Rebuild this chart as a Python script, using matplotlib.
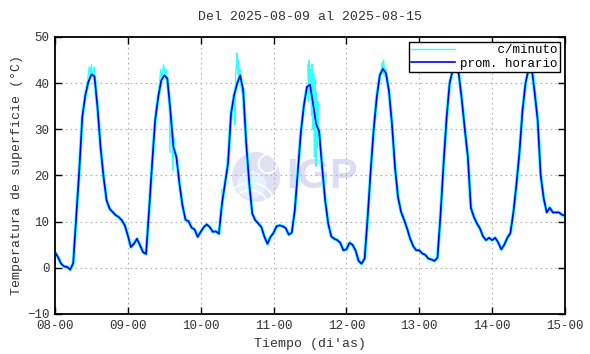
import numpy as np
import matplotlib
matplotlib.use("Agg")
import matplotlib.pyplot as plt
from matplotlib.patches import Ellipse, Arc

plt.rcParams['font.family'] = ['Liberation Mono', 'DejaVu Sans Mono']

# hourly means (prom. horario), 24 values per day from 08 to 14, then 15-00
day08 = [3.4, 2.3, 0.9, 0.3, 0.2, -0.4, 1.0, 11.0, 21.1, 32.7, 37.4, 40.3,
         41.9, 41.5, 34.8, 26.2, 19.7, 14.6, 12.8, 12.1, 11.4, 11.0, 10.3, 9.2]
day09 = [7.0, 4.5, 5.2, 6.3, 4.9, 3.4, 3.0, 12.5, 22.6, 32.0, 37.0, 40.6,
         41.7, 41.0, 34.1, 26.2, 24.0, 18.2, 13.5, 10.4, 10.1, 8.7, 8.3, 6.7]
day10 = [7.8, 8.8, 9.4, 8.8, 7.8, 7.9, 7.4, 13.9, 18.2, 22.6, 33.4, 37.4,
         39.9, 41.7, 38.4, 26.9, 18.2, 11.7, 10.3, 9.6, 8.8, 6.7, 5.2, 6.7]
day11 = [7.6, 9.0, 9.2, 9.0, 8.6, 7.2, 7.6, 12.5, 21.1, 29.4, 35.2, 39.2,
         39.7, 35.6, 31.2, 29.6, 21.8, 14.6, 9.6, 6.8, 6.3, 6.0, 5.4, 3.8]
day12 = [4.0, 5.4, 5.0, 3.8, 1.5, 0.9, 2.0, 11.0, 21.1, 30.1, 37.0, 41.7,
         43.1, 42.2, 38.4, 31.2, 21.8, 15.3, 12.1, 10.4, 8.5, 6.3, 4.7, 3.8]
day13 = [3.8, 3.1, 2.8, 2.0, 1.8, 1.5, 2.2, 11.5, 22.5, 32.5, 40.0, 42.8,
         43.2, 42.0, 36.5, 30.0, 24.0, 13.0, 11.0, 9.6, 8.5, 6.8, 6.0, 6.5]
day14 = [6.0, 6.5, 5.5, 4.0, 5.0, 6.5, 7.5, 12.0, 18.0, 25.0, 34.0, 40.0,
         43.0, 43.5, 38.0, 32.0, 20.0, 15.0, 12.0, 13.0, 12.0, 12.0, 12.0, 11.5]
last_value = [11.3]

# per-minute excursions around the midday peaks (time in days, value)
spike_t = [
    [8.45, 8.47, 8.49, 8.50, 8.52, 8.54, 8.555],
    [9.43, 9.45, 9.47, 9.49, 9.51, 9.53, 9.55, 9.57, 9.578, 9.59, 9.605, 9.62, 9.633, 9.64],
    [10.29, 10.30, 10.46, 10.47, 10.48, 10.49, 10.50, 10.51, 10.52, 10.53, 10.545, 10.56],
    [11.47, 11.48, 11.49, 11.50, 11.51, 11.52, 11.53, 11.54, 11.55, 11.56, 11.57,
     11.58, 11.59, 11.60, 11.61, 11.62, 11.63],
    [12.47, 12.49, 12.50, 12.51, 12.53, 12.55],
    [13.47, 13.49, 13.51, 13.52, 13.54, 13.56],
    [14.52, 14.535, 14.55, 14.56, 14.575],
]
spike_v = [
    [41, 43.5, 42, 44, 41.5, 43.5, 40],
    [39, 43, 41, 44, 42, 43, 39, 36, 25, 35, 30, 21, 28, 25],
    [17, 13, 38, 31, 42, 44, 46.5, 42, 45, 41, 43, 38],
    [44, 36, 45, 38, 43, 33, 44, 30, 42, 24, 41, 22, 38, 26, 36, 28, 30],
    [42, 44.5, 42, 45, 41.5, 43],
    [42, 45, 43, 45.5, 42, 40],
    [42, 45, 43, 45.5, 41],
]

tick_days = [8, 9, 10, 11, 12, 13, 14, 15]
tick_labels = ['08-00', '09-00', '10-00', '11-00', '12-00', '13-00', '14-00', '15-00']
y_ticks = [-10, 0, 10, 20, 30, 40, 50]

hourly = day08 + day09 + day10 + day11 + day12 + day13 + day14 + last_value
t = 8 + np.arange(len(hourly)) / 24.0

fig = plt.figure(figsize=(5.9, 3.54), dpi=100)
ax = fig.add_axes([0.0932, 0.113, 0.8644, 0.7825])

# watermark (logo circle + IGP)
ax.add_patch(Ellipse((10.76, 19.7), 0.66, 10.8, facecolor='#e0e1f5',
                     edgecolor='none', zorder=0.5))
ax.add_patch(Ellipse((10.70, 18.0), 0.40, 6.0, facecolor='#e6f2fd',
                     edgecolor='none', zorder=0.55))
for r in (0.8, 1.1):
    ax.add_patch(Arc((10.68, 12.5), 0.66 * r, 10.8 * r, theta1=30, theta2=150,
                     color='white', lw=1.2, zorder=0.6))
ax.add_patch(Arc((10.92, 22.5), 0.25, 4.0, theta1=90, theta2=300,
                 color='white', lw=1.2, zorder=0.6))
ax.text(11.66, 19.7, 'IGP', fontsize=30, fontweight='bold', color='#dcdcf2',
        family='Liberation Sans', ha='center', va='center', zorder=0.5)

# per-minute series (halo + spikes), then hourly mean
ax.plot(t, hourly, color='#33ffff', lw=2.4, zorder=2, solid_joinstyle='round')
for i, (st, sv) in enumerate(zip(spike_t, spike_v)):
    ax.plot(st, sv, color='#33ffff', lw=1.0, zorder=2,
            label='     c/minuto' if i == 0 else None)
ax.plot(t, hourly, color='#0000ee', lw=1.2, zorder=3, label='prom. horario')

ax.set_xlim(8, 15)
ax.set_ylim(-10, 50)
ax.set_xticks(tick_days)
ax.set_xticklabels(tick_labels)
ax.set_yticks(y_ticks)
ax.grid(True, color='#b0b0b0', linestyle=(0, (1.5, 3)), lw=0.8, zorder=1)
ax.tick_params(direction='in', top=True, right=True, length=5, width=1,
               labelsize=9, colors='black', labelcolor='#333333', pad=4)
for s in ax.spines.values():
    s.set_linewidth(1.3)

ax.set_title('Del 2025-08-09 al 2025-08-15', fontsize=9.5, color='#333333', pad=12)
ax.set_xlabel('Tiempo (di\'as)', fontsize=9.5, color='#333333', labelpad=5)
ax.set_ylabel('Temperatura de superficie (°C)', fontsize=9.5, color='#333333', labelpad=3)

leg = ax.legend(loc='upper right', fontsize=9, frameon=True, fancybox=False,
                edgecolor='black', framealpha=1, borderpad=0.2, labelspacing=0.1,
                handlelength=3.5, handletextpad=0.4, borderaxespad=0.4)
leg.get_frame().set_linewidth(1.0)
leg.set_zorder(5)

fig.savefig('out.png', dpi=100)
